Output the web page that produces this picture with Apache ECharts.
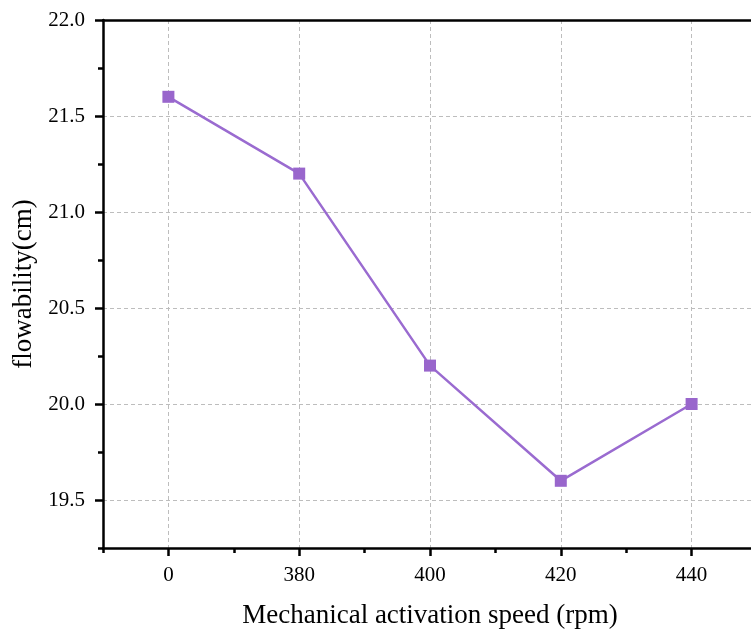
<!DOCTYPE html>
<html>
<head>
<meta charset="utf-8">
<script src="https://cdn.jsdelivr.net/npm/echarts@6/dist/echarts.min.js"></script>
<style>
  html, body { margin: 0; padding: 0; background: #fff; }
  #chart { width: 751px; height: 635px; }
</style>
</head>
<body>
<div id="chart"></div>
<script>
// 数据
var categories = ['0', '380', '400', '420', '440'];
var flowValues = [21.6, 21.2, 20.2, 19.6, 20.0];
var yTickLabels = [19.5, 20.0, 20.5, 21.0, 21.5, 22.0];
var yMinorTicks = [19.25, 19.75, 20.25, 20.75, 21.25, 21.75];
var xMinorTicks = [-0.5, 0.5, 1.5, 2.5, 3.5];

(function () {
  var chartDom = document.getElementById('chart');
  var myChart = echarts.init(chartDom);
  var font = 'Liberation Serif';
  var catIdx = categories.map(function (c, i) { return i; });

  var option = {
    animation: false,
    grid: {
      left: 103,
      top: 20,
      width: 654,
      height: 528,
      outerBoundsMode: 'none'
    },
    xAxis: [
      {
        type: 'value',
        min: -0.5,
        max: 4.5,
        interval: 0.5,
        name: 'Mechanical activation speed (rpm)',
        nameLocation: 'middle',
        nameGap: 54,
        nameTextStyle: { fontFamily: font, fontSize: 27, color: '#000' },
        axisLine: { show: true, onZero: false, lineStyle: { color: '#000', width: 2.5 } },
        axisTick: {
          show: true,
          customValues: catIdx,
          length: 8,
          lineStyle: { color: '#000', width: 2.5 }
        },
        axisLabel: {
          customValues: catIdx,
          margin: 17,
          fontFamily: font,
          fontSize: 21,
          color: '#000',
          formatter: function (v) { return categories[Math.round(v)]; }
        },
        // 网格虚线
        splitLine: {
          show: true,
          lineStyle: { color: '#bdbdbd', type: [4, 3], width: 1 }
        }
      },
      {
        // 次刻度
        type: 'value',
        position: 'bottom',
        min: -0.5,
        max: 4.5,
        interval: 0.5,
        axisLine: { show: false, onZero: false },
        axisTick: {
          show: true,
          customValues: xMinorTicks,
          length: 5,
          lineStyle: { color: '#000', width: 2.5 }
        },
        axisLabel: { show: false },
        splitLine: { show: false }
      },
      {
        // 顶部边框
        type: 'value',
        position: 'top',
        min: -0.5,
        max: 4.5,
        axisLine: { show: true, onZero: false, lineStyle: { color: '#000', width: 2.5 } },
        axisTick: { show: false },
        axisLabel: { show: false },
        splitLine: { show: false }
      }
    ],
    yAxis: [
      {
        type: 'value',
        min: 19.25,
        max: 22,
        interval: 0.25,
        name: 'flowability(cm)',
        nameLocation: 'middle',
        nameGap: 63,
        nameTextStyle: { fontFamily: font, fontSize: 27, color: '#000' },
        axisLine: { show: true, onZero: false, lineStyle: { color: '#000', width: 2.5 } },
        axisTick: {
          show: true,
          customValues: yTickLabels,
          length: 8,
          lineStyle: { color: '#000', width: 2.5 }
        },
        axisLabel: {
          customValues: yTickLabels,
          margin: 18,
          fontFamily: font,
          fontSize: 21,
          color: '#000',
          formatter: function (v) { return v.toFixed(1); }
        },
        splitLine: {
          show: true,
          lineStyle: { color: '#bdbdbd', type: [4, 3], width: 1 }
        }
      },
      {
        type: 'value',
        position: 'left',
        min: 19.25,
        max: 22,
        interval: 0.25,
        axisLine: { show: false, onZero: false },
        axisTick: {
          show: true,
          customValues: yMinorTicks,
          length: 5,
          lineStyle: { color: '#000', width: 2.5 }
        },
        axisLabel: { show: false },
        splitLine: { show: false }
      }
    ],
    series: [
      {
        type: 'line',
        xAxisIndex: 0,
        yAxisIndex: 0,
        data: flowValues.map(function (v, i) { return [i, v]; }),
        symbol: 'rect',
        symbolSize: 12,
        lineStyle: { color: '#9a6bd0', width: 2.5 },
        itemStyle: { color: '#9966cc' },
        z: 5
      }
    ]
  };

  option && myChart.setOption(option);
})();
</script>
</body>
</html>
